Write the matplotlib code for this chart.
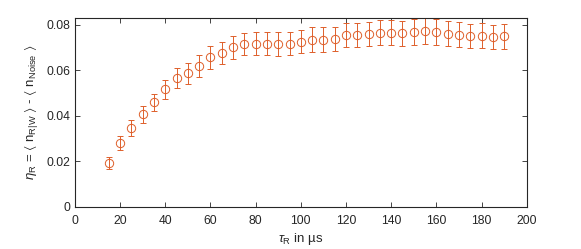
import matplotlib
matplotlib.use("Agg")
import matplotlib.pyplot as plt
import numpy as np

plt.rcParams["font.family"] = ["Liberation Sans", "DejaVu Sans"]
plt.rcParams["mathtext.fontset"] = "custom"
plt.rcParams["mathtext.rm"] = "Liberation Sans"
plt.rcParams["mathtext.it"] = "Liberation Sans:italic"
plt.rcParams["mathtext.sf"] = "Liberation Sans"
plt.rcParams["mathtext.fallback"] = "stixsans"

# readout time in us
tau = [15, 20, 25, 30, 35, 40, 45, 50, 55, 60, 65, 70, 75, 80, 85, 90, 95, 100,
       105, 110, 115, 120, 125, 130, 135, 140, 145, 150, 155, 160, 165, 170, 175,
       180, 185, 190]
eta = [0.0191, 0.0279, 0.0346, 0.0407, 0.0459, 0.0516, 0.0566, 0.0587, 0.0619,
       0.0657, 0.0677, 0.0701, 0.0715, 0.0717, 0.0718, 0.0715, 0.0718, 0.0727,
       0.0736, 0.0736, 0.0737, 0.0756, 0.0756, 0.0759, 0.0765, 0.0766, 0.0763,
       0.0769, 0.0773, 0.0769, 0.0762, 0.0758, 0.0752, 0.0753, 0.0747, 0.0750]
err = [0.0026, 0.0030, 0.0034, 0.0037, 0.0039, 0.0041, 0.0045, 0.0045, 0.0047,
       0.0050, 0.0048, 0.0050, 0.0049, 0.0050, 0.0051, 0.0052, 0.0052, 0.0052,
       0.0053, 0.0054, 0.0053, 0.0053, 0.0053, 0.0053, 0.0055, 0.0055, 0.0055,
       0.0056, 0.0056, 0.0056, 0.0056, 0.0054, 0.0054, 0.0056, 0.0055, 0.0056]

orange = "#DE5F2A"
dark = "#262626"

fig = plt.figure(figsize=(5.81, 2.49), dpi=100)
ax = fig.add_axes([0.129, 0.170, 0.7775, 0.758])

ax.errorbar(tau, eta, yerr=err, fmt="o", color=orange, mfc="none", mec=orange,
            ms=6, mew=0.7, elinewidth=0.7, capsize=2.2, capthick=0.7)

ax.set_xlim(0, 200)
ax.set_ylim(0, 0.0831)
ax.set_xticks(np.arange(0, 201, 20))
ax.set_yticks([0, 0.02, 0.04, 0.06, 0.08])
ax.set_yticklabels(["0", "0.02", "0.04", "0.06", "0.08"])

for s in ax.spines.values():
    s.set_color(dark)
    s.set_linewidth(0.8)
ax.tick_params(direction="in", length=3.5, width=0.6, color=dark,
               labelcolor=dark, labelsize=8.7, top=True, right=True)
ax.tick_params(axis="x", pad=6)
ax.tick_params(axis="y", pad=3)

ax.set_xlabel(r"$\tau_\mathrm{R}$ in µs", fontsize=9.5, color=dark, labelpad=3)
ax.set_ylabel(r"$\eta_\mathrm{R}$ = $\langle$ n$_\mathrm{R|W}$ $\rangle$ - "
              r"$\langle$ n$_\mathrm{Noise}$ $\rangle$",
              fontsize=9.5, color=dark, labelpad=4)

fig.savefig("out.png", dpi=100)
